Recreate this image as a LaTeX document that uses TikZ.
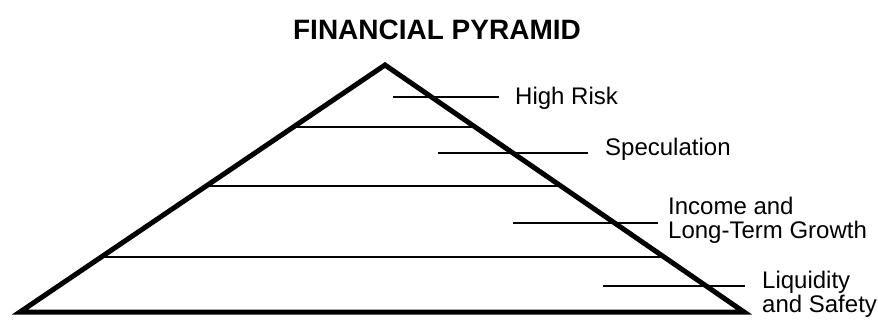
\documentclass[tikz,border=0pt]{standalone}
\usepackage{fontspec}
\setmainfont{Liberation Sans}
\usetikzlibrary{calc}
\begin{document}
\begin{tikzpicture}[x=1pt,y=-1pt,
  outline/.style={line width=5pt,line join=miter},
  layer/.style={line width=1.6pt},
  leader/.style={line width=1.6pt},
  lbl/.style={font=\fontsize{24}{24}\selectfont,inner ysep=0pt,inner xsep=16pt,align=left,anchor=base west}]
\useasboundingbox (0,0) rectangle (878,321);
\node[font=\fontsize{28}{28}\selectfont\bfseries,anchor=base,inner sep=0pt] (title) at (437,40) {FINANCIAL PYRAMID};

% pyramid
\coordinate (apex) at (385,65);
\coordinate (left) at (20,312);
\coordinate (right) at (744,312);
\draw[outline] (left) -- (apex) -- (right) -- cycle;

\draw[layer] ($(left)!0.749!(apex)$) -- ($(right)!0.749!(apex)$);
\draw[layer] ($(left)!0.510!(apex)$) -- ($(right)!0.510!(apex)$);
\draw[layer] ($(left)!0.223!(apex)$) -- ($(right)!0.223!(apex)$);

% labels
\node[lbl] (risk) at (499,104) {High Risk};
\node[lbl,inner xsep=17pt] (spec) at (588,155) {Speculation};
\node[lbl,inner xsep=10pt] (income) at (658,238) {Income and\\Long-Term Growth};
\node[lbl,inner xsep=17pt] (safety) at (745,312) {Liquidity\\and Safety};

\coordinate (risk-in) at (393,97);
\coordinate (spec-in) at (438,153);
\coordinate (income-in) at (513,223);
\coordinate (safety-in) at (603,286);
\draw[leader] (risk-in) -- (risk-in -| risk.west);
\draw[leader] (spec-in) -- (spec-in -| spec.west);
\draw[leader] (income-in) -- (income-in -| income.west);
\draw[leader] (safety-in) -- (safety-in -| safety.west);
\end{tikzpicture}
\end{document}
